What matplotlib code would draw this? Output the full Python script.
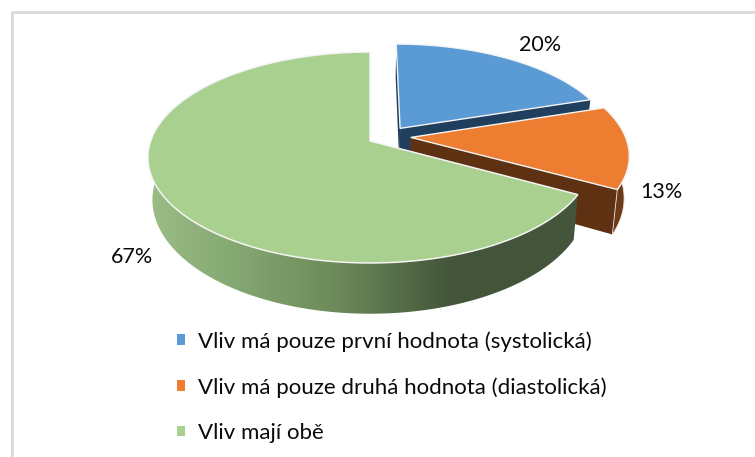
import numpy as np
import matplotlib
matplotlib.use("Agg")
import matplotlib.pyplot as plt
from matplotlib.colors import LinearSegmentedColormap
from matplotlib.patches import Patch, PathPatch, Polygon
from matplotlib.path import Path

categories = ["Vliv má pouze první hodnota (systolická)",
              "Vliv má pouze druhá hodnota (diastolická)",
              "Vliv mají obě"]
values = [20, 13, 67]
value_labels = ["20%", "13%", "67%"]

top_colors = ["#5B9BD5", "#ED7D31", "#A9D08E"]
wall_colors = ["#203F5E", "#5F3113", None]
explode = [(0.14, 0.125), (0.187, 0.035), (0.0, 0.0)]
radius = [0.98, 0.985, 1.0]
label_pos = [(540, 45), (661, 192), (132, 257)]

W, H = 755, 457
CX, CY = 370, 141      # apex of the un-exploded pie, pixels
A, C, K = 219.3, 102.9, 0.1564   # perspective ellipse
SX, SY, DEPTH = 0.98, 1.08, 41   # bottom-plane mapping

plt.rcParams["font.family"] = ["Lato", "DejaVu Sans"]
fig = plt.figure(figsize=(W / 100, H / 100), dpi=100)
ax = fig.add_axes([0, 0, 1, 1])
ax.set_xlim(0, W)
ax.set_ylim(H, 0)
ax.axis("off")


def place(u, v, bottom=False):
    w = 1 + K * v
    X, Y = A * u / w, C * v / w
    if bottom:
        X, Y = SX * X, SY * Y - DEPTH
    return np.column_stack([CX + X, CY - Y])


def project(theta, offset, r=1.0, bottom=False):
    """theta in degrees clockwise from top; returns pixel coordinates."""
    t = np.radians(np.atleast_1d(theta))
    return place(r * np.sin(t) + offset[0], r * np.cos(t) + offset[1], bottom)


def apex(offset, bottom=False):
    return place(np.array([offset[0]]), np.array([offset[1]]), bottom)


def arc(a, b):
    return np.linspace(a, b, 200)


fracs = np.array(values) / sum(values) * 360
starts = np.concatenate([[0], np.cumsum(fracs)[:-1]])
ends = np.cumsum(fracs)

z = 2
# blue and orange: walls, then tops
for i in [0, 1]:
    off, r = explode[i], radius[i]
    a, b = starts[i], ends[i]
    for edge in (a, b):
        quad = np.vstack([apex(off), project(edge, off, r),
                          project(edge, off, r, True), apex(off, True)])
        ax.add_patch(Polygon(quad, closed=True, fc=wall_colors[i], ec="none", zorder=z))
        z += 1
    if i == 1:
        rim = np.vstack([project(arc(a, b), off, r), project(arc(b, a), off, r, True)])
        ax.add_patch(Polygon(rim, closed=True, fc="#6B3A18", ec="#E8E0D8", lw=0.6, zorder=z))
        z += 1
    top = np.vstack([apex(off), project(arc(a, b), off, r)])
    ax.add_patch(Polygon(top, closed=True, fc=top_colors[i], ec="#F4F4F4", lw=1.0, zorder=z))
    z += 1

# green: gradient rim, then top
off = explode[2]
a, b = starts[2], ends[2]
rim = np.vstack([project(arc(a, 300), off), project(arc(300, a), off, 1.0, True)])
patch = PathPatch(Path(np.vstack([rim, rim[:1]])), fc="none", ec="none", zorder=z)
ax.add_patch(patch)
cmap = LinearSegmentedColormap.from_list(
    "rim", [(0, "#9CBD86"), (0.22, "#83A570"), (0.44, "#6C8A5A"),
            (0.70, "#43553A"), (1, "#43553A")])
im = ax.imshow(np.linspace(0, 1, 256)[None, :], cmap=cmap, extent=(148, 580, 320, 150),
               aspect="auto", zorder=z, interpolation="bilinear")
im.set_clip_path(patch)
ax.set_xlim(0, W)
ax.set_ylim(H, 0)
z += 1
top = np.vstack([apex(off), project(arc(a, b), off)])
ax.add_patch(Polygon(top, closed=True, fc=top_colors[2], ec="#F4F4F4", lw=1.1, zorder=z))
z += 1

for s, (x, y) in zip(value_labels, label_pos):
    ax.text(x, y, s, ha="center", va="center", fontsize=15.5, color="#0A0A0A", zorder=z)

handles = [Patch(fc=c, ec="none") for c in top_colors]
ax.legend(handles, categories, loc="upper left", bbox_to_anchor=(177 / W, 1 - 331 / H),
          frameon=False, fontsize=16, labelspacing=1.14, handlelength=0.36,
          handleheight=0.36, handletextpad=0.59, borderpad=0, borderaxespad=0,
          labelcolor="#0A0A0A")

# chart-area border (top and left only are in view)
ax.plot([W, 12, 12], [12, 12, H], color="#D9D9D9", lw=2.0, zorder=1, solid_joinstyle="miter")

fig.savefig("out.png", dpi=100)
